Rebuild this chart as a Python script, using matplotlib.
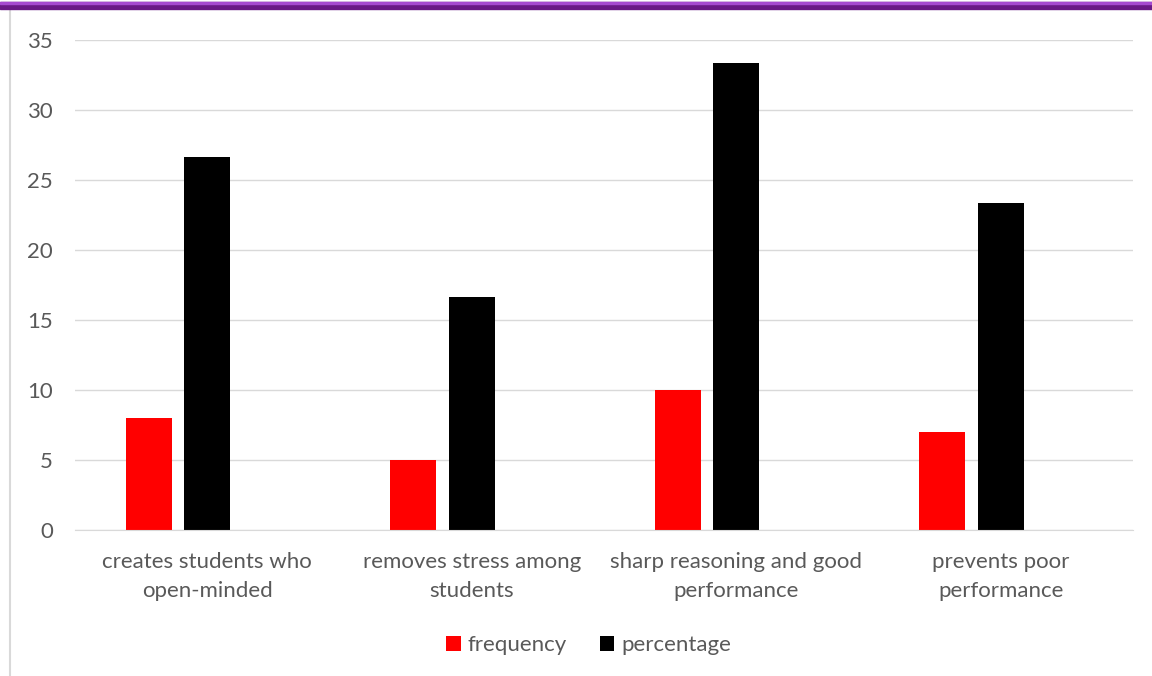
import numpy as np
import matplotlib
matplotlib.use("Agg")
import matplotlib.pyplot as plt
from matplotlib.patches import Rectangle
from matplotlib.lines import Line2D

categories = [
    "creates students who\nopen-minded",
    "removes stress among\nstudents",
    "sharp reasoning and good\nperformance",
    "prevents poor\nperformance",
]
frequency = [8, 5, 10, 7]
percentage = [26.67, 16.67, 33.33, 23.33]
y_ticks = [0, 5, 10, 15, 20, 25, 30, 35]

plt.rcParams["font.family"] = ["Lato", "DejaVu Sans"]
text_color = "#595959"

fig = plt.figure(figsize=(11.52, 6.76), dpi=100)
ax = fig.add_axes([0.0651, 0.216, 0.9184, 0.7248])

x = np.arange(len(categories))
width = 0.174
ax.bar(x - 0.221, frequency, width, color="#ff0000", label="frequency")
ax.bar(x, percentage, width, color="#000000", label="percentage")

ax.set_xlim(-0.5, len(categories) - 0.5)
ax.set_ylim(0, 35)
ax.set_yticks(y_ticks)
ax.set_xticks(x)
ax.set_xticklabels(categories, fontsize=16, color=text_color, linespacing=1.55)
ax.tick_params(axis="y", labelsize=16, colors=text_color, length=0, pad=16)
ax.tick_params(axis="x", length=0, pad=16)
ax.grid(axis="y", color="#d9d9d9", linewidth=1)
ax.set_axisbelow(True)
for side in ["top", "right", "left"]:
    ax.spines[side].set_visible(False)
ax.spines["bottom"].set_color("#d9d9d9")

leg = fig.legend(loc="center", bbox_to_anchor=(0.511, 0.046), ncol=2, frameon=False,
                 fontsize=16, handlelength=0.65, handleheight=0.65, handletextpad=0.3,
                 columnspacing=1.5)
for t in leg.get_texts():
    t.set_color(text_color)

# frame bits from the original screenshot
fig.patches.append(Rectangle((0, 1 - 9 / 676), 1, 7 / 676, transform=fig.transFigure,
                             color="#6a1a86", zorder=5))
fig.patches.append(Rectangle((0, 1 - 4 / 676), 1, 2 / 676, transform=fig.transFigure,
                             color="#a64ad0", zorder=5))
fig.lines.append(Line2D([10 / 1152, 10 / 1152], [0, 1 - 10 / 676], transform=fig.transFigure,
                        color="#d9d9d9", linewidth=1.5))

fig.savefig("out.png", dpi=100)
